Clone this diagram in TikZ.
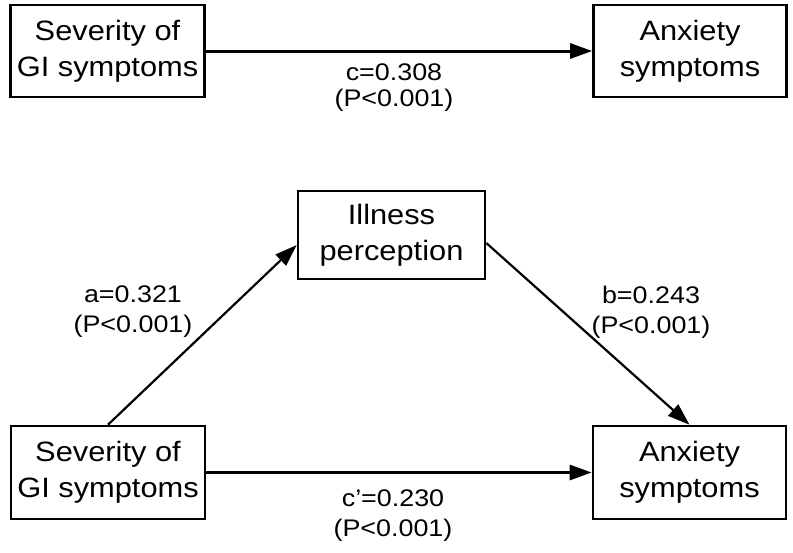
\documentclass[tikz,border=0pt]{standalone}
\usepackage{fontspec}
\setmainfont{Liberation Sans}
\newfontfamily\boxfont[FakeStretch=1.1]{Liberation Sans}
\newfontfamily\labfont[FakeStretch=1.12]{Liberation Sans}
\usetikzlibrary{arrows.meta}
\begin{document}
\begin{tikzpicture}[x=1pt,y=-1pt,
  varbox/.style={draw, line width=2.6pt, inner sep=0pt, align=center,
    font=\boxfont\fontsize{28}{36}\selectfont},
  conn/.style={line width=2.2pt, -{Triangle[length=22pt,width=15pt]}},
  hconn/.style={conn, line width=3pt},
  coef/.style={align=center, inner sep=0pt,
    font=\labfont\fontsize{24}{30}\selectfont},
  coeftight/.style={align=center, inner sep=0pt,
    font=\labfont\fontsize{24}{26}\selectfont}]
\useasboundingbox (0,0) rectangle (793,552);
\fill[white] (0,0) rectangle (793,552);
% top model
\node[varbox, minimum width=194pt, minimum height=92pt] (sevT) at (107.5,51) {Severity of\\GI symptoms};
\node[varbox, minimum width=193pt, minimum height=92pt] (anxT) at (690,51) {Anxiety\\symptoms};
\draw[hconn] (sevT.east) -- (anxT.west);
\node[coeftight] (cT) at (394,88) {c=0.308\\(P<0.001)};
% mediation model
\node[varbox, minimum width=187pt, minimum height=88pt] (ill) at (391.5,235) {Illness\\perception};
\node[varbox, minimum width=194pt, minimum height=93pt] (sevB) at (108,472.5) {Severity of\\GI symptoms};
\node[varbox, minimum width=193pt, minimum height=93pt] (anxB) at (689.5,472.5) {Anxiety\\symptoms};
\draw[conn] (sevB.north) -- ([yshift=-10pt]ill.west);
\draw[conn] ([yshift=-8pt]ill.east) -- (anxB.north);
\draw[hconn] (sevB.east) -- (anxB.west);
\node[coef] (aL) at (133,312) {a=0.321\\(P<0.001)};
\node[coef] (bL) at (651,312) {b=0.243\\(P<0.001)};
\node[coef] (cB) at (393,516) {c’=0.230\\(P<0.001)};
\end{tikzpicture}
\end{document}
